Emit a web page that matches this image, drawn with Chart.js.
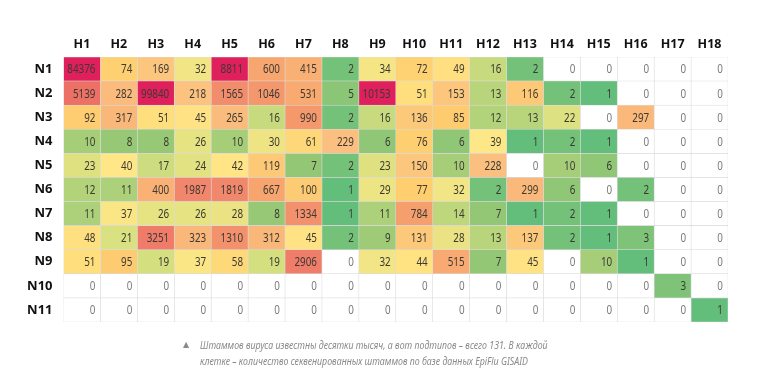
<!DOCTYPE html>
<html>
<head>
<meta charset="utf-8">
<script src="https://cdn.jsdelivr.net/npm/chart.js@4.4.1/dist/chart.umd.min.js"></script>
<style>
  body { margin: 0; background: #fff; }
  #wrap { position: relative; width: 768px; height: 392px; }
  #caption {
    position: absolute; left: 200px; top: 337px; white-space: nowrap;
    font-family: 'Noto Sans', sans-serif; transform: scaleX(0.84); transform-origin: left top;
    font-style: italic; font-size: 10.5px; line-height: 16px; color: #8a8a8a;
  }
  #tri { position: absolute; left: 183px; top: 340px; font-size: 8px; color: #8a8a8a; font-family: 'DejaVu Sans', sans-serif; }
</style>
</head>
<body>
<div id="wrap">
  <canvas id="heat" width="768" height="392"></canvas>
  <div id="tri">▲</div>
  <div id="caption">Штаммов вируса известны десятки тысяч, а вот подтипов – всего 131. В каждой<br>клетке – количество секвенированных штаммов по базе данных EpiFlu GISAID</div>
</div>
<script>
// subtypes: hemagglutinin columns, neuraminidase rows
const hLabels = ['H1','H2','H3','H4','H5','H6','H7','H8','H9','H10','H11','H12','H13','H14','H15','H16','H17','H18'];
const nLabels = ['N1','N2','N3','N4','N5','N6','N7','N8','N9','N10','N11'];

// sequenced strains per cell, one array per N row
const n1  = [84376, 74, 169, 32, 8811, 600, 415, 2, 34, 72, 49, 16, 2, 0, 0, 0, 0, 0];
const n2  = [5139, 282, 99840, 218, 1565, 1046, 531, 5, 10153, 51, 153, 13, 116, 2, 1, 0, 0, 0];
const n3  = [92, 317, 51, 45, 265, 16, 990, 2, 16, 136, 85, 12, 13, 22, 0, 297, 0, 0];
const n4  = [10, 8, 8, 26, 10, 30, 61, 229, 6, 76, 6, 39, 1, 2, 1, 0, 0, 0];
const n5  = [23, 40, 17, 24, 42, 119, 7, 2, 23, 150, 10, 228, 0, 10, 6, 0, 0, 0];
const n6  = [12, 11, 400, 1987, 1819, 667, 100, 1, 29, 77, 32, 2, 299, 6, 0, 2, 0, 0];
const n7  = [11, 37, 26, 26, 28, 8, 1334, 1, 11, 784, 14, 7, 1, 2, 1, 0, 0, 0];
const n8  = [48, 21, 3251, 323, 1310, 312, 45, 2, 9, 131, 28, 13, 137, 2, 1, 3, 0, 0];
const n9  = [51, 95, 19, 37, 58, 19, 2906, 0, 32, 44, 515, 7, 45, 0, 10, 1, 0, 0];
const n10 = [0, 0, 0, 0, 0, 0, 0, 0, 0, 0, 0, 0, 0, 0, 0, 0, 3, 0];
const n11 = [0, 0, 0, 0, 0, 0, 0, 0, 0, 0, 0, 0, 0, 0, 0, 0, 0, 1];
const rows = [n1, n2, n3, n4, n5, n6, n7, n8, n9, n10, n11];

// colour stops on log10 scale (green -> yellow -> orange -> crimson)
const stops = [
  [0.0, [99, 190, 123]],
  [0.9, [150, 200, 118]],
  [1.3, [215, 224, 128]],
  [1.6, [255, 231, 135]],
  [1.9, [254, 205, 110]],
  [2.3, [251, 196, 130]],
  [2.8, [247, 165, 110]],
  [3.3, [241, 134, 108]],
  [3.75, [236, 110, 100]],
  [3.94, [224, 32, 92]]
];
function cellColor(v) {
  if (v === 0) return '#ffffff';
  const t = Math.log10(v);
  if (t >= stops[stops.length - 1][0]) return 'rgb(' + stops[stops.length - 1][1].join(',') + ')';
  for (let i = 1; i < stops.length; i++) {
    if (t <= stops[i][0]) {
      const a = stops[i - 1], b = stops[i];
      const f = (t - a[0]) / (b[0] - a[0]);
      const c = a[1].map((x, k) => Math.round(x + (b[1][k] - x) * f));
      return 'rgb(' + c.join(',') + ')';
    }
  }
}

// one floating bar dataset per H column
const datasets = hLabels.map((h, c) => ({
  label: h,
  data: rows.map(() => [c, c + 1]),
  backgroundColor: rows.map(r => cellColor(r[c])),
  borderColor: 'rgba(215,215,215,0.8)',
  borderWidth: 0.6,
  borderSkipped: false,
  grouped: false,
  barPercentage: 1,
  categoryPercentage: 1
}));

// write the numbers into the cells (narrowed a bit to look condensed)
const cellText = {
  id: 'cellText',
  afterDatasetsDraw(chart) {
    const ctx = chart.ctx;
    const xs = chart.scales.x, ys = chart.scales.y;
    const sx = 0.82;
    ctx.save();
    ctx.font = "12px 'Noto Sans', sans-serif";
    ctx.textAlign = 'right';
    ctx.textBaseline = 'middle';
    rows.forEach((r, ri) => {
      r.forEach((v, c) => {
        ctx.fillStyle = v === 0 ? '#7a7a7a' : '#3c3a33';
        const x = xs.getPixelForValue(c + 1) - 5;
        const y = ys.getPixelForValue(ri) + 1;
        ctx.save();
        ctx.translate(x, y);
        ctx.scale(sx, 1);
        ctx.fillText(String(v), 0, 0);
        ctx.restore();
      });
    });
    ctx.restore();
  }
};

new Chart(document.getElementById('heat'), {
  type: 'bar',
  data: { labels: nLabels, datasets: datasets },
  options: {
    indexAxis: 'y',
    responsive: false,
    animation: false,
    layout: { padding: { left: 0, right: 40, top: 0, bottom: 70 } },
    plugins: { legend: { display: false }, tooltip: { enabled: false } },
    scales: {
      x: { type: 'linear', min: 0, max: 18, display: false },
      xTop: {
        type: 'category', labels: hLabels, position: 'top', offset: true,
        grid: { display: false, drawTicks: false }, border: { display: false },
        ticks: { color: '#111', padding: 5, font: { family: "'Open Sans', sans-serif", size: 12.5, weight: 'bold' } },
        afterFit: s => { s.height = 57; }
      },
      y: {
        type: 'category', offset: true,
        grid: { display: false, drawTicks: false }, border: { display: false },
        ticks: { color: '#111', padding: 11, font: { family: "'Open Sans', sans-serif", size: 13, weight: 'bold' } },
        afterFit: s => { s.width = 63.5; }
      }
    }
  },
  plugins: [cellText]
});
</script>
</body>
</html>
